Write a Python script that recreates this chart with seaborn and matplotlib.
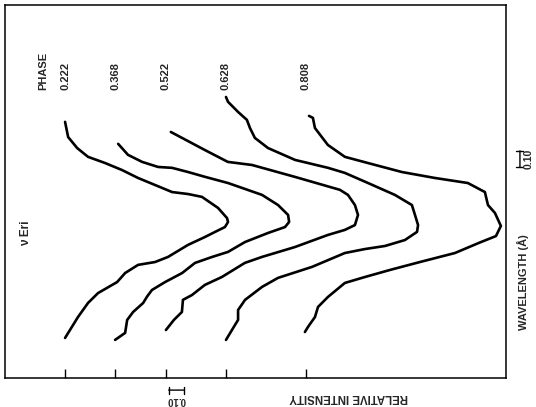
import numpy as np
import pandas as pd
import matplotlib
matplotlib.use("Agg")
import matplotlib.pyplot as plt
import seaborn as sns

# --- dados (perfis de linha, nu Eri) ---
phases = ["0.222", "0.368", "0.522", "0.628", "0.808"]
# deslocamento horizontal de cada perfil (unidades de intensidade relativa)
offsets = [0.293, 0.537, 0.785, 1.078, 1.468]

# comprimento de onda relativo (A) e profundidade do perfil
lam_222 = [1.164, 1.095, 1.045, 1.005, 0.977, 0.945, 0.909, 0.877, 0.845, 0.836, 0.823,
           0.773, 0.727, 0.709, 0.686, 0.664, 0.641, 0.605, 0.550, 0.527, 0.514, 0.477,
           0.436, 0.386, 0.341, 0.277, 0.182]
dep_222 = [0.000, 0.015, 0.059, 0.112, 0.195, 0.278, 0.356, 0.439, 0.522, 0.600, 0.668,
           0.746, 0.790, 0.795, 0.780, 0.732, 0.683, 0.600, 0.502, 0.439, 0.356, 0.293,
           0.254, 0.161, 0.112, 0.063, 0.000]

lam_368 = [1.064, 1.014, 0.982, 0.959, 0.955, 0.936, 0.914, 0.886, 0.832, 0.786, 0.741,
           0.709, 0.686, 0.659, 0.618, 0.573, 0.550, 0.523, 0.477, 0.436, 0.400, 0.370,
           0.341, 0.300, 0.264, 0.205, 0.173]
dep_368 = [0.015, 0.063, 0.132, 0.210, 0.278, 0.356, 0.439, 0.551, 0.717, 0.795, 0.844,
           0.849, 0.829, 0.746, 0.634, 0.551, 0.473, 0.390, 0.327, 0.244, 0.180, 0.156,
           0.137, 0.088, 0.059, 0.049, 0.000]

lam_522 = [1.118, 1.036, 0.982, 0.968, 0.914, 0.855, 0.832, 0.786, 0.741, 0.695, 0.673,
           0.650, 0.595, 0.550, 0.523, 0.459, 0.423, 0.377, 0.355, 0.300, 0.264, 0.218]
dep_522 = [0.024, 0.190, 0.302, 0.420, 0.629, 0.849, 0.888, 0.922, 0.937, 0.922, 0.873,
           0.790, 0.629, 0.468, 0.385, 0.273, 0.190, 0.127, 0.083, 0.078, 0.039, 0.000]

lam_628 = [1.277, 1.255, 1.209, 1.173, 1.136, 1.091, 1.045, 0.991, 0.955, 0.932, 0.886,
           0.832, 0.786, 0.741, 0.695, 0.664, 0.627, 0.600, 0.586, 0.568, 0.505, 0.455,
           0.414, 0.355, 0.309, 0.264, 0.218, 0.173]
dep_628 = [0.000, 0.010, 0.059, 0.102, 0.117, 0.141, 0.205, 0.337, 0.498, 0.580, 0.693,
           0.824, 0.907, 0.922, 0.937, 0.932, 0.873, 0.776, 0.678, 0.580, 0.420, 0.254,
           0.176, 0.093, 0.059, 0.059, 0.029, 0.000]

lam_808 = [1.191, 1.182, 1.136, 1.059, 1.005, 0.977, 0.936, 0.909, 0.886, 0.845, 0.786,
           0.750, 0.691, 0.645, 0.614, 0.568, 0.527, 0.491, 0.459, 0.432, 0.368, 0.323,
           0.277, 0.232, 0.209]
dep_808 = [0.015, 0.034, 0.044, 0.107, 0.190, 0.302, 0.468, 0.629, 0.790, 0.873, 0.888,
           0.922, 0.951, 0.927, 0.844, 0.727, 0.556, 0.410, 0.288, 0.190, 0.107, 0.059,
           0.044, 0.010, -0.005]

lams = [lam_222, lam_368, lam_522, lam_628, lam_808]
deps = [dep_222, dep_368, dep_522, dep_628, dep_808]

rows = []
for ph, off, lam, dep in zip(phases, offsets, lams, deps):
    for k, (l, d) in enumerate(zip(lam, dep)):
        rows.append({"phase": ph, "ordem": k, "wavelength": l, "intensity": off + d})
df = pd.DataFrame(rows)

sns.set_style("white")
plt.rcParams["font.family"] = ["Liberation Sans", "DejaVu Sans"]

fig = plt.figure(figsize=(5.36, 4.07), dpi=100)
ax = fig.add_axes([5 / 536, 1 - 378 / 407, 501 / 536, 373 / 407])

sns.lineplot(data=df, x="intensity", y="wavelength", units="phase", estimator=None,
             sort=False, color="black", linewidth=1.9, ax=ax, legend=False)
for line in ax.lines:
    line.set_solid_joinstyle("round")
    line.set_solid_capstyle("round")

ax.set_xlim(0, 2.444)
ax.set_ylim(0, 1.695)
ax.set_xlabel("")
ax.set_ylabel("")
ax.set_xticks(offsets)
ax.set_xticklabels([])
ax.set_yticks([])
ax.tick_params(axis="x", bottom=True, direction="in", length=6.5, width=1.0,
               color="black")
for s in ax.spines.values():
    s.set_color("black")
    s.set_linewidth(1.1)

# rotulos das fases
ax.text(0.185, 1.309, "PHASE", rotation=90, ha="center", va="bottom",
        fontsize=8, fontweight="bold")
for ph, off in zip(phases, offsets):
    ax.text(off, 1.309, ph, rotation=90, ha="center", va="bottom",
            fontsize=8, fontweight="bold")

ax.text(0.102, 0.60, "ν Eri", rotation=90, ha="center", va="bottom", fontsize=8.5,
        fontweight="bold")

# barras de escala (0.10)
ax.annotate("", xy=(2.512, 0.945), xytext=(2.512, 1.045), annotation_clip=False,
            arrowprops=dict(arrowstyle="|-|", lw=1.0, mutation_scale=2.5, color="black"))
ax.text(2.553, 0.995, "0.10", rotation=90, ha="center", va="center", fontsize=7.5,
        fontweight="bold", clip_on=False)
ax.annotate("", xy=(0.785, -0.055), xytext=(0.885, -0.055), annotation_clip=False,
            arrowprops=dict(arrowstyle="|-|", lw=1.0, mutation_scale=2.5, color="black"))
ax.text(0.835, -0.098, "0.10", rotation=180, ha="center", va="center", fontsize=7,
        fontweight="bold", clip_on=False)

fig.text(349 / 536, 1 - 397 / 407, "RELATIVE INTENSITY", rotation=180, ha="center",
         va="center", fontsize=8.3, fontweight="bold")
fig.text(523 / 536, 1 - 282 / 407, "WAVELENGTH (Å)", rotation=90, ha="center",
         va="center", fontsize=8, fontweight="bold")

fig.savefig("out.png", dpi=100)
